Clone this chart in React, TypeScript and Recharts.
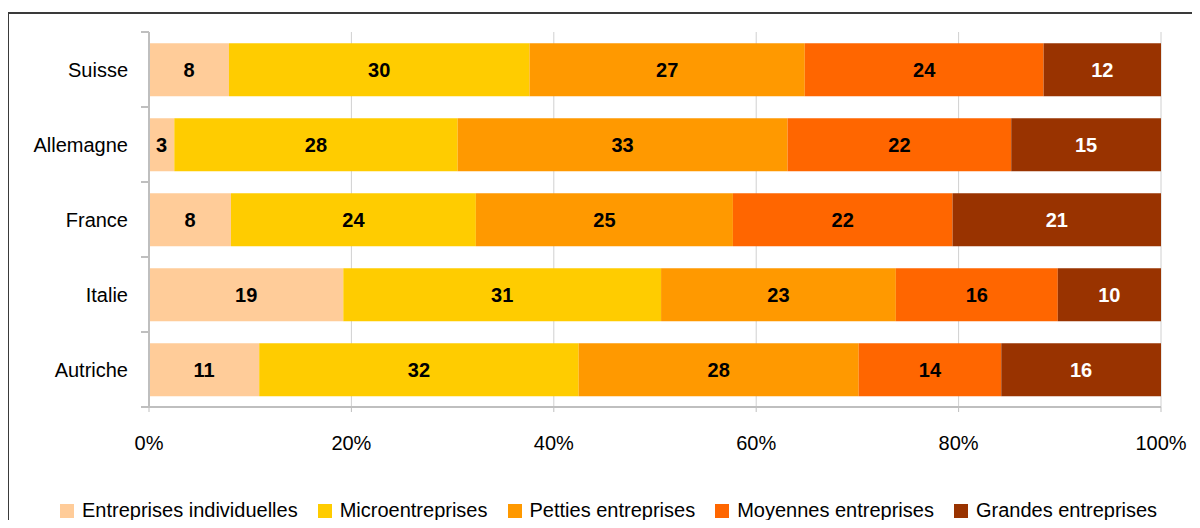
import React from "react";
import {
  BarChart, Bar, XAxis, YAxis, CartesianGrid, Legend, LabelList
} from "recharts";

const categories = ["Suisse", "Allemagne", "France", "Italie", "Autriche"];

// parts en %
const individuelles = [7.9, 2.5, 8.1, 19.2, 10.9];
const micro = [29.7, 28.0, 24.2, 31.4, 31.6];
const petites = [27.2, 32.6, 25.4, 23.2, 27.7];
const moyennes = [23.6, 22.1, 21.7, 16.0, 14.1];
const grandes = [11.6, 14.8, 20.6, 10.2, 15.8];

const xTicks = [0, 0.2, 0.4, 0.6, 0.8, 1];

const series = [
  { key: "individuelles", name: "Entreprises individuelles", color: "#FFCC99", label: "#000000" },
  { key: "micro", name: "Microentreprises", color: "#FFCC00", label: "#000000" },
  { key: "petites", name: "Petties entreprises", color: "#FF9900", label: "#000000" },
  { key: "moyennes", name: "Moyennes entreprises", color: "#FF6600", label: "#000000" },
  { key: "grandes", name: "Grandes entreprises", color: "#993300", label: "#FFFFFF" },
];

const data = categories.map((country, i) => ({
  country,
  individuelles: individuelles[i],
  micro: micro[i],
  petites: petites[i],
  moyennes: moyennes[i],
  grandes: grandes[i],
}));

const FONT = "'Liberation Sans Narrow', 'Arial Narrow', 'Liberation Sans', sans-serif";
const TICK_MARGIN = 15;
const TICK_SIZE = 6;

// libellé pays + petites graduations entre les catégories (comme Excel)
const CountryTick = (props: any) => {
  const { x, y, payload, index, visibleTicksCount } = props;
  const half = payload?.offset ?? 0;
  const ax = x + TICK_MARGIN + TICK_SIZE;
  const isLast = index === (visibleTicksCount ?? categories.length) - 1;
  return (
    <g>
      <line x1={ax - 8} x2={ax} y1={y - half} y2={y - half} stroke="#bfbfbf" strokeWidth={2} />
      {isLast && <line x1={ax - 8} x2={ax} y1={y + half} y2={y + half} stroke="#bfbfbf" strokeWidth={2} />}
      <text x={x} y={y} dy={7} textAnchor="end" fill="#000" fontSize={20} fontFamily={FONT}>
        {payload.value}
      </text>
    </g>
  );
};

const renderLegend = () => (
  <div style={{ display: "flex", alignItems: "center", fontFamily: FONT, fontSize: 20, color: "#000" }}>
    {series.map((s) => (
      <div key={s.key} style={{ display: "flex", alignItems: "center", marginRight: 20 }}>
        <span style={{ display: "inline-block", width: 14, height: 14, background: s.color, marginRight: 8 }} />
        <span>{s.name}</span>
      </div>
    ))}
  </div>
);

const App: React.FC = () => {
  return (
    <div style={{ position: "relative", margin: -8, width: 1200, height: 528, overflow: "hidden", background: "#fff" }}>
      <div
        style={{
          position: "absolute", left: 7, top: 12, width: 1400, height: 700,
          borderTop: "2px solid #3a3a3a", borderLeft: "2px solid #3a3a3a",
        }}
      />
      <div style={{ position: "absolute", left: 0, top: 0 }}>
        <BarChart
          width={1200}
          height={528}
          data={data}
          layout="vertical"
          stackOffset="expand"
          barCategoryGap="15%"
          margin={{ top: 32, right: 39, left: 0, bottom: 0 }}
        >
          <CartesianGrid horizontal={false} stroke="#d0d0d0" />
          <XAxis
            type="number"
            domain={[0, 1]}
            ticks={xTicks}
            tickFormatter={(v: number) => `${Math.round(v * 100)}%`}
            height={98}
            tickSize={5}
            tickMargin={24}
            stroke="#bfbfbf"
            axisLine={{ stroke: "#bfbfbf", strokeWidth: 2 }}
            tick={{ fill: "#000", fontSize: 20, fontFamily: FONT }}
          />
          <XAxis xAxisId="top" type="number" orientation="top" domain={[0, 1]} tick={false} tickLine={false} height={0} axisLine={{ stroke: "#c8c8c8", strokeWidth: 2 }} />
          <YAxis
            type="category"
            dataKey="country"
            width={149}
            tickLine={false}
            tickSize={TICK_SIZE}
            tickMargin={TICK_MARGIN}
            axisLine={{ stroke: "#bfbfbf", strokeWidth: 2 }}
            tick={<CountryTick />}
          />
          <Legend
            content={renderLegend}
            wrapperStyle={{ position: "absolute", left: 60, top: 499, width: "auto" }}
          />
          {series.map((s) => (
            <Bar key={s.key} dataKey={s.key} name={s.name} stackId="a" fill={s.color} isAnimationActive={false}>
              <LabelList
                dataKey={s.key}
                position="center"
                formatter={(v: any) => Math.round(Number(v))}
                fill={s.label}
                style={{ fontSize: 20, fontWeight: "bold", fontFamily: FONT }}
              />
            </Bar>
          ))}
        </BarChart>
      </div>
    </div>
  );
};

export default App;
